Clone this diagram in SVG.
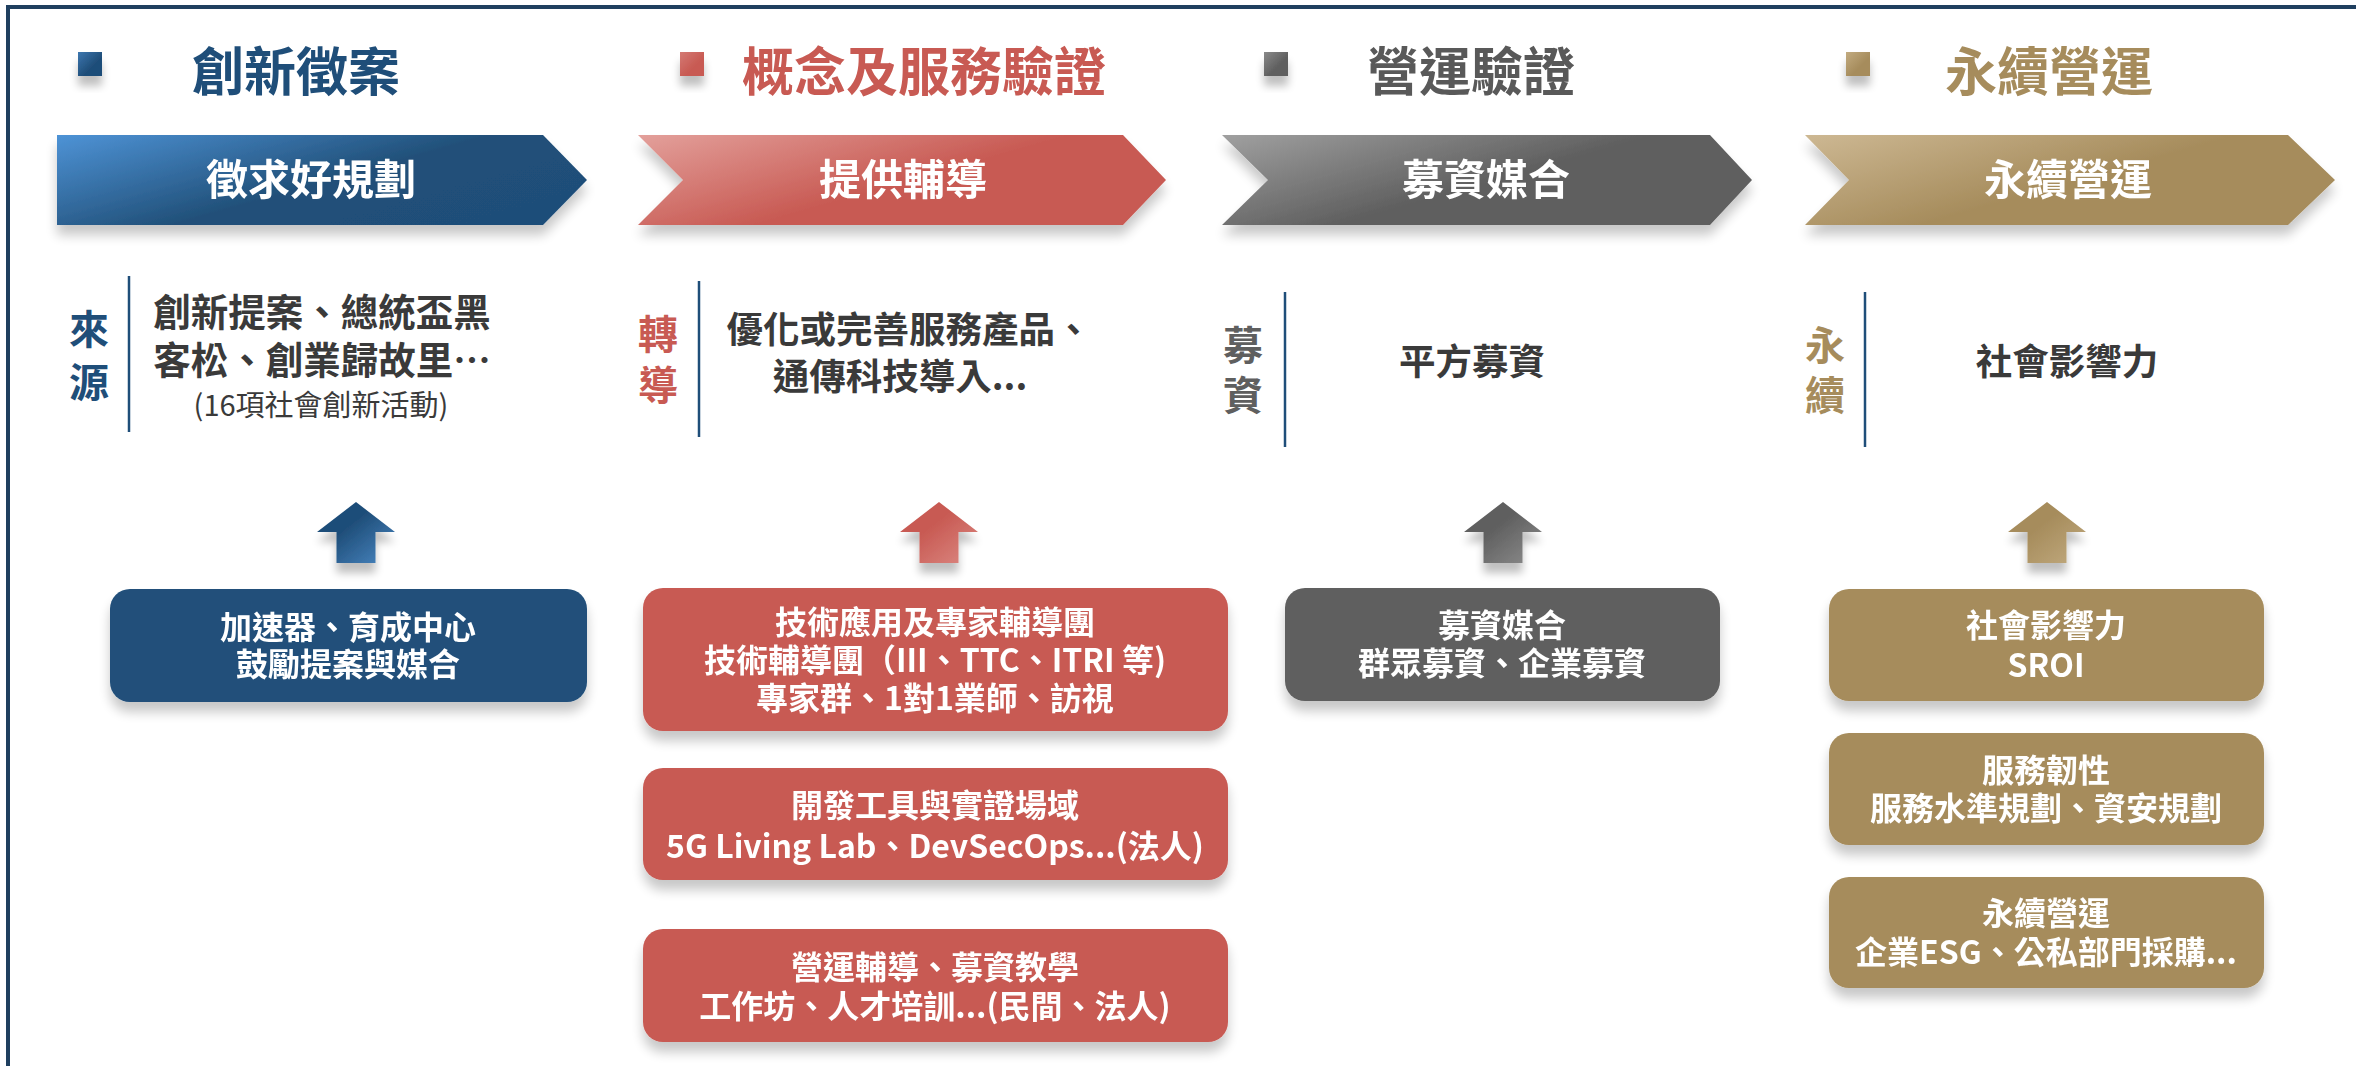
<svg xmlns="http://www.w3.org/2000/svg" width="2356" height="1066" viewBox="0 0 2356 1066">
<defs>
<style>
text{font-family:"Noto Sans CJK TC","Noto Sans CJK SC",sans-serif;font-weight:700;}
.title{font-size:52px;}
.chev{font-size:42px;fill:#fff;text-anchor:middle;}
.side{font-size:40px;text-anchor:middle;}
.desc{font-size:36.5px;fill:#3a3a3a;text-anchor:middle;}
.small{font-size:29px;font-weight:400;fill:#3a3a3a;text-anchor:middle;}
.box{font-size:32px;fill:#fff;text-anchor:middle;}
.vline{stroke:#1f4e79;stroke-width:2.5;}
</style>
<filter id="sh" x="-10%" y="-20%" width="120%" height="160%">
<feGaussianBlur in="SourceAlpha" stdDeviation="6"/>
<feOffset dx="0" dy="10" result="b"/>
<feComponentTransfer><feFuncA type="linear" slope="0.22"/></feComponentTransfer>
<feMerge><feMergeNode/><feMergeNode in="SourceGraphic"/></feMerge>
</filter>
<filter id="shs" x="-50%" y="-50%" width="200%" height="220%">
<feGaussianBlur in="SourceAlpha" stdDeviation="4"/>
<feOffset dx="0" dy="10"/>
<feComponentTransfer><feFuncA type="linear" slope="0.25"/></feComponentTransfer>
<feMerge><feMergeNode/><feMergeNode in="SourceGraphic"/></feMerge>
</filter>
<linearGradient id="gBlue" x1="0" y1="0" x2="1" y2="0.6"><stop offset="0" stop-color="#4e93d6"/><stop offset="0.6" stop-color="#215079"/><stop offset="1" stop-color="#1f4e79"/></linearGradient>
<linearGradient id="gRed" x1="0" y1="0" x2="1" y2="0.6"><stop offset="0" stop-color="#e3a09b"/><stop offset="0.6" stop-color="#c85a53"/><stop offset="1" stop-color="#c85a53"/></linearGradient>
<linearGradient id="gGray" x1="0" y1="0" x2="1" y2="0.6"><stop offset="0" stop-color="#a0a0a0"/><stop offset="0.6" stop-color="#5f5f5f"/><stop offset="1" stop-color="#5f5f5f"/></linearGradient>
<linearGradient id="gGold" x1="0" y1="0" x2="1" y2="0.6"><stop offset="0" stop-color="#cdb893"/><stop offset="0.6" stop-color="#a68c5c"/><stop offset="1" stop-color="#a68c5c"/></linearGradient>
<linearGradient id="aBlue" x1="0.2" y1="0.2" x2="1" y2="1"><stop offset="0.25" stop-color="#1f4e79"/><stop offset="1" stop-color="#4a88c4"/></linearGradient>
<linearGradient id="aRed" x1="0.2" y1="0.2" x2="1" y2="1"><stop offset="0.25" stop-color="#c85a53"/><stop offset="1" stop-color="#dc8a84"/></linearGradient>
<linearGradient id="aGray" x1="0.2" y1="0.2" x2="1" y2="1"><stop offset="0.25" stop-color="#5f5f5f"/><stop offset="1" stop-color="#8e8e8e"/></linearGradient>
<linearGradient id="aGold" x1="0.2" y1="0.2" x2="1" y2="1"><stop offset="0.25" stop-color="#a68c5c"/><stop offset="1" stop-color="#c2ab80"/></linearGradient>
<linearGradient id="bBlue" x1="0" y1="0" x2="1" y2="1"><stop offset="0" stop-color="#3d77b0"/><stop offset="0.6" stop-color="#1f4e79"/></linearGradient>
<linearGradient id="bRed" x1="0" y1="0" x2="1" y2="1"><stop offset="0" stop-color="#d47a74"/><stop offset="0.6" stop-color="#c85a53"/></linearGradient>
<linearGradient id="bGray" x1="0" y1="0" x2="1" y2="1"><stop offset="0" stop-color="#8a8a8a"/><stop offset="0.6" stop-color="#5f5f5f"/></linearGradient>
<linearGradient id="bGold" x1="0" y1="0" x2="1" y2="1"><stop offset="0" stop-color="#c2ab80"/><stop offset="0.6" stop-color="#a68c5c"/></linearGradient>
<path id="uparrow" d="M0,0 L39,30 L19.5,30 L19.5,61 L-19.5,61 L-19.5,30 L-39,30 Z"/>
</defs>
<rect width="2356" height="1066" fill="#fff"/>
<rect x="8" y="7" width="2400" height="1120" fill="none" stroke="#1f3f5f" stroke-width="4"/>

<g id="col1">
<g id="title1"><rect x="78" y="52" width="24" height="24" fill="url(#bBlue)" filter="url(#shs)"/><text class="title" x="192" y="91" fill="#1f4e79">創新徵案</text></g>
<g id="chevron1" filter="url(#sh)"><path d="M57,135 L543,135 L587,180 L543,225 L57,225 Z" fill="url(#gBlue)"/><text class="chev" x="311" y="195">徵求好規劃</text></g>
<g id="source1"><text class="side" x="89" y="344" fill="#1f4e79">來</text><text class="side" x="89" y="397" fill="#1f4e79">源</text>
<line class="vline" x1="129" y1="276" x2="129" y2="432"/>
<text class="desc" x="322" y="326" style="font-size:37.5px">創新提案、總統盃黑</text>
<text class="desc" x="322" y="374" style="font-size:37.5px">客松、創業歸故里⋯</text>
<text class="small" x="321" y="416">(16項社會創新活動)</text></g>
<g id="box1" filter="url(#sh)"><rect x="110" y="589" width="477" height="113" rx="20" fill="#204f7a"/><text class="box" x="348" y="639">加速器、育成中心</text><text class="box" x="348" y="676">鼓勵提案與媒合</text></g>
</g>

<g id="col2">
<g id="title2"><rect x="680" y="52" width="24" height="24" fill="url(#bRed)" filter="url(#shs)"/><text class="title" x="742" y="91" fill="#c85a53">概念及服務驗證</text></g>
<g id="chevron2" filter="url(#sh)"><path d="M638,135 L1123,135 L1166,180 L1123,225 L638,225 L683,180 Z" fill="url(#gRed)"/><text class="chev" x="903" y="195">提供輔導</text></g>
<g id="source2"><text class="side" x="658" y="349" fill="#c85a53">轉</text><text class="side" x="658" y="400" fill="#c85a53">導</text>
<line class="vline" x1="699" y1="281" x2="699" y2="437"/>
<text class="desc" x="909" y="343">優化或完善服務產品、</text>
<text class="desc" x="900" y="390">通傳科技導入...</text></g>
<g id="box2a" filter="url(#sh)"><rect x="643" y="588" width="585" height="143" rx="20" fill="#c85a53"/><text class="box" x="935" y="634">技術應用及專家輔導團</text><text class="box" x="935" y="672">技術輔導團（III、TTC、ITRI 等)</text><text class="box" x="935" y="710">專家群、1對1業師、訪視</text></g>
<g id="box2b" filter="url(#sh)"><rect x="643" y="768" width="585" height="112" rx="20" fill="#c85a53"/><text class="box" x="935" y="817">開發工具與實證場域</text><text class="box" x="935" y="858">5G Living Lab、DevSecOps...(法人)</text></g>
<g id="box2c" filter="url(#sh)"><rect x="643" y="929" width="585" height="113" rx="20" fill="#c85a53"/><text class="box" x="935" y="979">營運輔導、募資教學</text><text class="box" x="935" y="1018">工作坊、人才培訓...(民間、法人)</text></g>
</g>

<g id="col3">
<g id="title3"><rect x="1264" y="52" width="24" height="24" fill="url(#bGray)" filter="url(#shs)"/><text class="title" x="1367" y="91" fill="#595959">營運驗證</text></g>
<g id="chevron3" filter="url(#sh)"><path d="M1222,135 L1710,135 L1752,180 L1710,225 L1222,225 L1268,180 Z" fill="url(#gGray)"/><text class="chev" x="1486" y="195">募資媒合</text></g>
<g id="source3"><text class="side" x="1243" y="360" fill="#5f5f5f">募</text><text class="side" x="1243" y="410" fill="#5f5f5f">資</text>
<line class="vline" x1="1285" y1="292" x2="1285" y2="447"/>
<text class="desc" x="1472" y="375">平方募資</text></g>
<g id="box3" filter="url(#sh)"><rect x="1285" y="588" width="435" height="113" rx="20" fill="#5f5f5f"/><text class="box" x="1502" y="637">募資媒合</text><text class="box" x="1502" y="675">群眾募資、企業募資</text></g>
</g>

<g id="col4">
<g id="title4"><rect x="1846" y="52" width="24" height="24" fill="url(#bGold)" filter="url(#shs)"/><text class="title" x="1945" y="91" fill="#a68c5c">永續營運</text></g>
<g id="chevron4" filter="url(#sh)"><path d="M1805,135 L2288,135 L2335,180 L2288,225 L1805,225 L1849,180 Z" fill="url(#gGold)"/><text class="chev" x="2068" y="195">永續營運</text></g>
<g id="source4"><text class="side" x="1825" y="360" fill="#a68c5c">永</text><text class="side" x="1825" y="410" fill="#a68c5c">續</text>
<line class="vline" x1="1865" y1="292" x2="1865" y2="447"/>
<text class="desc" x="2067" y="375">社會影響力</text></g>
<g id="box4a" filter="url(#sh)"><rect x="1829" y="589" width="435" height="112" rx="20" fill="#a68c5c"/><text class="box" x="2046" y="637">社會影響力</text><text class="box" x="2046" y="677">SROI</text></g>
<g id="box4b" filter="url(#sh)"><rect x="1829" y="733" width="435" height="112" rx="20" fill="#a68c5c"/><text class="box" x="2046" y="782">服務韌性</text><text class="box" x="2046" y="820">服務水準規劃、資安規劃</text></g>
<g id="box4c" filter="url(#sh)"><rect x="1829" y="877" width="435" height="111" rx="20" fill="#a68c5c"/><text class="box" x="2046" y="925">永續營運</text><text class="box" x="2046" y="964">企業ESG、公私部門採購...</text></g>
</g>

<g id="connectors">
<use href="#uparrow" x="356" y="502" fill="url(#aBlue)" filter="url(#shs)"/>
<use href="#uparrow" x="939" y="502" fill="url(#aRed)" filter="url(#shs)"/>
<use href="#uparrow" x="1503" y="502" fill="url(#aGray)" filter="url(#shs)"/>
<use href="#uparrow" x="2047" y="502" fill="url(#aGold)" filter="url(#shs)"/>
</g>
</svg>
